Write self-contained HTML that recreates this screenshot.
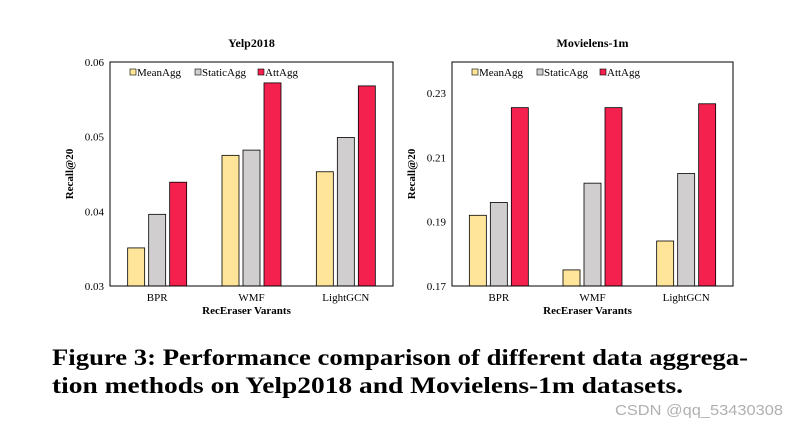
<!DOCTYPE html>
<html><head><meta charset="utf-8"><style>
html,body{margin:0;padding:0;background:#fff;}
svg{display:block;font-family:"Liberation Serif",serif;}
</style></head><body>
<svg id="fig" width="799" height="428" viewBox="0 0 799 428">
<text x="52" y="365" font-size="23" font-weight="bold" textLength="696" lengthAdjust="spacingAndGlyphs">Figure 3: Performance comparison of different data aggrega-</text>
<text x="52" y="393" font-size="23" font-weight="bold" textLength="631" lengthAdjust="spacingAndGlyphs">tion methods on Yelp2018 and Movielens-1m datasets.</text>
<text x="615" y="415" font-size="15" fill="#b0b0b0" font-family="Liberation Sans, sans-serif" textLength="168" lengthAdjust="spacingAndGlyphs">CSDN @qq_53430308</text>
</svg>
<script>
const categories = ["BPR","WMF","LightGCN"];
const seriesNames = ["MeanAgg","StaticAgg","AttAgg"];
const yelpMean = [0.0351,0.0475,0.0453];
const yelpStatic = [0.0396,0.0482,0.0499];
const yelpAtt = [0.0439,0.0572,0.0568];
const yelpTicks = ["0.03","0.04","0.05","0.06"];
const mlMean = [0.192,0.175,0.184];
const mlStatic = [0.196,0.202,0.205];
const mlAtt = [0.2255,0.2255,0.2267];
const mlTicks = ["0.17","0.19","0.21","0.23"];

const NS="http://www.w3.org/2000/svg";
const svg=document.getElementById('fig');
const colors=["#ffe599","#d0cece","#f4214f"];
function mk(tag,attrs,parent){const e=document.createElementNS(NS,tag);for(const k in attrs)e.setAttribute(k,attrs[k]);(parent||svg).appendChild(e);return e;}

function chart(key,title,x0,x1,yMin,yMax,ticks,series,legX){
  const y0=62,y1=286;
  const g=mk('g',{});
  
  
  const ys=v=>y1-(v-yMin)/(yMax-yMin)*(y1-y0);
  const gw=(x1-x0)/categories.length;
  const t=mk('text',{x:(x0+x1)/2,y:47,'font-size':12,'font-weight':'bold','text-anchor':'middle'},g);t.textContent=title;
  
  
  ticks.forEach(tk=>{const v=parseFloat(tk);const tt=mk('text',{x:x0-6,y:ys(v)+4,'font-size':11,'text-anchor':'end'},g);tt.textContent=tk;
    
    });
  categories.forEach((c,i)=>{
    const cx=x0+gw*(i+0.5);
    series.forEach((s,j)=>{
      const bx=cx-29.5+j*21, by=ys(s[i]);
      const r=mk('rect',{x:bx,y:by,width:17,height:y1-by,fill:colors[j],stroke:'#000','stroke-width':0.8},g);
      
      
    });
    const ct=mk('text',{x:cx,y:y1+15,'font-size':11,'text-anchor':'middle'},g);ct.textContent=c;
    
    
  });
  const fr=mk('rect',{x:x0,y:y0,width:x1-x0,height:y1-y0,fill:'none',stroke:'#000','stroke-width':1},g);
  
  
  const xl=mk('text',{x:(x0+x1)/2-5,y:314,'font-size':11,'font-weight':'bold','text-anchor':'middle'},g);xl.textContent='RecEraser Varants';
  
  
  const yl=mk('text',{x:0,y:0,'font-size':11,'font-weight':'bold','text-anchor':'middle',transform:`translate(${x0-37},${(y0+y1)/2}) rotate(-90)`},g);yl.textContent='Recall@20';
  
  
  const lx=[legX,legX+65,legX+128];
  seriesNames.forEach((n,j)=>{
    const lg=mk('g',{},g);
    
    
    mk('rect',{x:lx[j],y:69,width:6,height:6,fill:colors[j],stroke:'#000','stroke-width':0.6},lg);
    const lt=mk('text',{x:lx[j]+7,y:76,'font-size':11},lg);lt.textContent=n;
  });
}
chart('yelp','Yelp2018',110,393,0.03,0.06,yelpTicks,[yelpMean,yelpStatic,yelpAtt],130);
chart('movielens','Movielens-1m',452,733,0.17,0.2397,mlTicks,[mlMean,mlStatic,mlAtt],472);
</script>
</body></html>
